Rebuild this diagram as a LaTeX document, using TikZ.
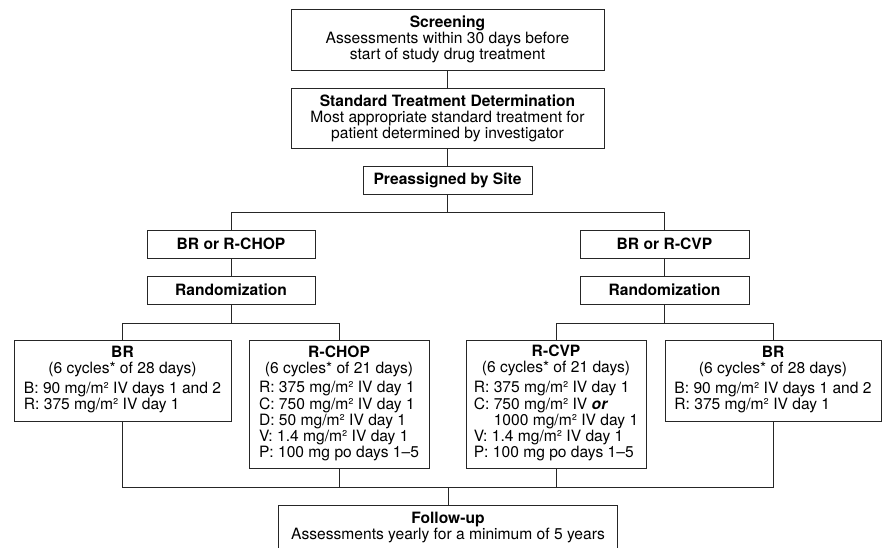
\documentclass[tikz,border=0pt]{standalone}
\usepackage{fontspec}
\setmainfont{TeX Gyre Heros}
\begin{document}
\begin{tikzpicture}[x=1pt,y=-1pt,
  txt/.style={font=\fontsize{15.6}{16}\selectfont, align=center, inner sep=0pt},
  box/.style={txt, draw=black!85, line width=1pt},
  conn/.style={draw=black!85, line width=1pt}]
\useasboundingbox (0,0) rectangle (882,547);
% top column
\node[box, minimum width=313pt, minimum height=61pt] (screen) at (447.5,39.5)
  {\textbf{Screening}\\Assessments within 30 days before\\start of study drug treatment};
\node[box, minimum width=313pt, minimum height=60pt] (std) at (447.5,118)
  {\textbf{Standard Treatment Determination}\\Most appropriate standard treatment for\\patient determined by investigator};
\node[box, minimum width=169pt, minimum height=28pt] (pre) at (447.5,180)
  {\textbf{Preassigned by Site}};
% branches
\node[box, minimum width=168pt, minimum height=28pt] (bc) at (231,244) {\textbf{BR or R-CHOP}};
\node[box, minimum width=168pt, minimum height=28pt] (r1) at (231,290) {\textbf{Randomization}};
\node[box, minimum width=169pt, minimum height=28pt] (bv) at (664.5,244) {\textbf{BR or R-CVP}};
\node[box, minimum width=169pt, minimum height=28pt] (r2) at (664.5,290) {\textbf{Randomization}};
% treatment boxes
\node[box, minimum width=217pt, minimum height=81pt] (br1) at (122.5,380.5)
  {\textbf{BR}\\(6 cycles* of 28 days)\\[4pt]
   \begin{tabular}{@{}l@{}}B: 90 mg/m² IV days 1 and 2\\R: 375 mg/m² IV day 1\end{tabular}};
\node[box, minimum width=180pt, minimum height=128pt] (rchop) at (339,404)
  {\textbf{R-CHOP}\\(6 cycles* of 21 days)\\[4pt]
   \begin{tabular}{@{}l@{}}R: 375 mg/m² IV day 1\\C: 750 mg/m² IV day 1\\D: 50 mg/m² IV day 1\\V: 1.4 mg/m² IV day 1\\P: 100 mg po days 1--5\end{tabular}};
\node[box, minimum width=180pt, minimum height=128pt] (rcvp) at (556,404)
  {\textbf{R-CVP}\\(6 cycles* of 21 days)\\[4pt]
   \begin{tabular}{@{}l@{}}R: 375 mg/m² IV day 1\\C: 750 mg/m² IV \textbf{\textit{or}}\\\phantom{C: }1000 mg/m² IV day 1\\V: 1.4 mg/m² IV day 1\\P: 100 mg po days 1--5\end{tabular}};
\node[box, minimum width=216pt, minimum height=81pt] (br2) at (773,380.5)
  {\textbf{BR}\\(6 cycles* of 28 days)\\[4pt]
   \begin{tabular}{@{}l@{}}B: 90 mg/m² IV days 1 and 2\\R: 375 mg/m² IV day 1\end{tabular}};
% follow-up (cut at the bottom)
\node[txt, anchor=north, minimum width=338pt, minimum height=44pt] (fu) at (448,505)
  {\textbf{Follow-up}\\Assessments yearly for a minimum of 5 years};
\draw[conn] (fu.south west) -- (fu.north west) -- (fu.north east) -- (fu.south east);
% connectors
\coordinate (s1) at (447.5,212);
\coordinate (s2) at (0,323);
\coordinate (m) at (448,487);
\draw[conn] (screen) -- (std);
\draw[conn] (std) -- (pre);
\draw[conn] (pre.south) -- (s1);
\draw[conn] (bc.north) -- (bc.north |- s1) -- (bv.north |- s1) -- (bv.north);
\draw[conn] (bc) -- (r1);
\draw[conn] (bv) -- (r2);
\draw[conn] (r1.south) -- (r1.south |- s2);
\draw[conn] (br1.north) -- (br1.north |- s2) -- (rchop.north |- s2) -- (rchop.north);
\draw[conn] (r2.south) -- (r2.south |- s2);
\draw[conn] (rcvp.north) -- (rcvp.north |- s2) -- (br2.north |- s2) -- (br2.north);
\draw[conn] (br1.south) -- (br1.south |- m) -- (br2.south |- m) -- (br2.south);
\draw[conn] (rchop.south) -- (rchop.south |- m);
\draw[conn] (rcvp.south) -- (rcvp.south |- m);
\draw[conn] (m) -- (fu.north);
\end{tikzpicture}
\end{document}
